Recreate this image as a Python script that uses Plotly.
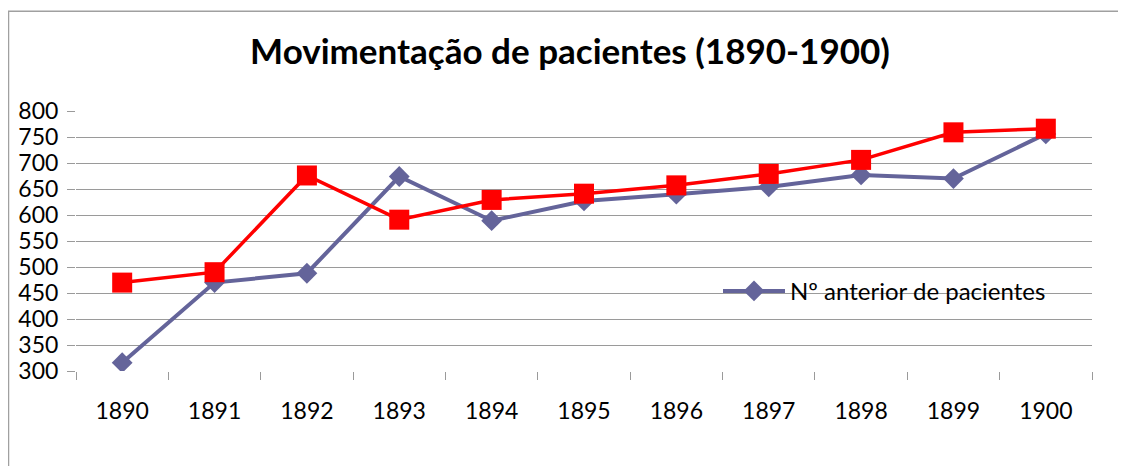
import plotly.graph_objects as go

years = ["1890", "1891", "1892", "1893", "1894", "1895", "1896", "1897", "1898", "1899", "1900"]
anterior = [316, 470, 488, 674, 589, 627, 640, 654, 677, 670, 756]
atual = [470, 490, 676, 591, 629, 641, 657, 679, 706, 759, 766]
y_ticks = [300, 350, 400, 450, 500, 550, 600, 650, 700, 750, 800]

FONT = "Lato"
GRID = "#9a9a9a"
OFF = 8  # page body margin

fig = go.Figure()
fig.add_trace(go.Scatter(
    x=years, y=anterior, mode="lines+markers", name="Nº anterior de pacientes",
    line=dict(color="#64649a", width=4),
    marker=dict(symbol="diamond", size=16, color="#64649a"),
))
fig.add_trace(go.Scatter(
    x=years, y=atual, mode="lines+markers", name="Nº de pacientes",
    showlegend=False,
    line=dict(color="#ff0000", width=3.5),
    marker=dict(symbol="square", size=20, color="#ff0000"),
))

W, H = 1126 - OFF, 466 - OFF
# screen coordinates of the plot area
SL, SR, ST, SB = 76, 1092, 110.7, 370.7
L = SL - OFF
T = ST - OFF
R = W - (SR - OFF)
B = H - (SB - OFF)
pw = SR - SL
ph = SB - ST

def px_x(x):
    return (x - SL) / pw

def px_y(y):
    return (SB - y) / ph

shapes = [
    dict(type="rect", xref="paper", yref="paper", layer="between",
         x0=px_x(698), x1=px_x(1080), y0=px_y(332), y1=px_y(270),
         fillcolor="white", line=dict(width=0)),
    dict(type="line", xref="paper", yref="paper", layer="above",
         x0=px_x(8.5), x1=px_x(8.5), y0=px_y(11), y1=px_y(480),
         line=dict(color="#a0a0a0", width=1.5)),
    dict(type="line", xref="paper", yref="paper", layer="above",
         x0=px_x(8), x1=px_x(1140), y0=px_y(11), y1=px_y(11),
         line=dict(color="#a0a0a0", width=1.5)),
]

fig.update_layout(
    width=W, height=H,
    margin=dict(l=L, r=R, t=T, b=B, autoexpand=False),
    paper_bgcolor="white", plot_bgcolor="white",
    font=dict(family=FONT, size=23, color="black"),
    title=dict(text="<b>Movimentação de pacientes (1890-1900)</b>",
               font=dict(family=FONT, size=35, color="black"),
               x=(570 - OFF) / W, xanchor="center", xref="container",
               y=1 - (52 - OFF) / H, yanchor="middle", yref="container"),
    showlegend=True,
    legend=dict(x=px_x(718), y=px_y(291), xanchor="left", yanchor="middle",
                bgcolor="rgba(0,0,0,0)", font=dict(family=FONT, size=24, color="black"),
                itemwidth=62, borderwidth=0),
    shapes=shapes,
)
fig.update_xaxes(
    type="category", range=[-0.5, 10.5], tickson="boundaries",
    ticks="outside", ticklen=8, tickcolor=GRID, tickwidth=1,
    showgrid=False, showline=False, zeroline=False,
    ticklabelstandoff=24,
    tickfont=dict(family=FONT, size=23, color="black"),
)
fig.update_yaxes(
    range=[300, 800], tickvals=y_ticks, ticktext=[str(v) for v in y_ticks],
    ticks="outside", ticklen=8, tickcolor=GRID, tickwidth=1,
    showgrid=True, gridcolor=GRID, gridwidth=1,
    showline=False, zeroline=False,
    ticklabelstandoff=4,
    tickfont=dict(family=FONT, size=23, color="black"),
)

fig.write_html("out.html")
